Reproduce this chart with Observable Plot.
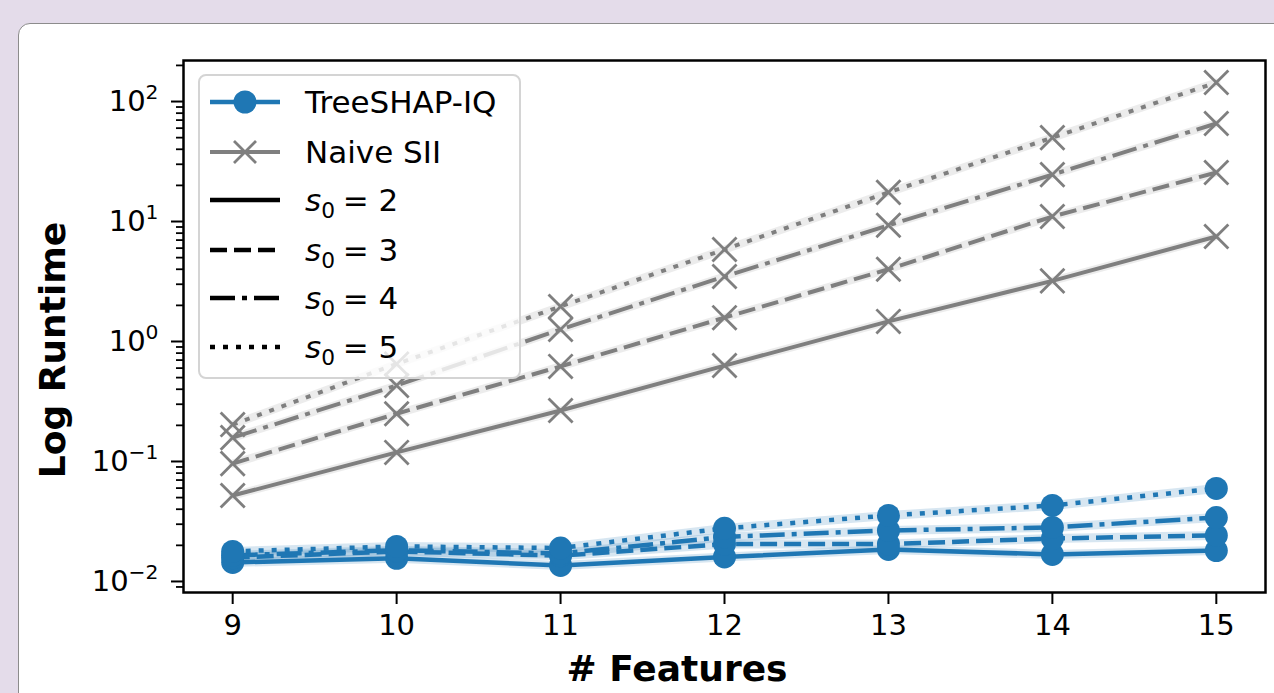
<!DOCTYPE html>
<html><head><meta charset="utf-8">
<script src="https://cdn.jsdelivr.net/npm/d3@7"></script>
<script src="https://cdn.jsdelivr.net/npm/@observablehq/plot@0.6"></script>
<style>
html,body{margin:0;padding:0;background:#e4dcea;width:1274px;height:693px;overflow:hidden;font-family:"DejaVu Sans";}
#card{position:absolute;left:18px;top:23px;width:1300px;height:720px;background:#fff;border:1px solid #8c8c8c;border-radius:12px;}
#chart{position:absolute;left:0;top:0;}
</style></head><body>
<div id="card"></div><div id="chart"></div>
<script>
// ---- data ----
const features = [9, 10, 11, 12, 13, 14, 15];
const s0Values = [2, 3, 4, 5];
// TreeSHAP-IQ runtimes (s)
const treeS2 = [0.0144, 0.0156, 0.0136, 0.0160, 0.0185, 0.0168, 0.0181];
const treeS3 = [0.0158, 0.0178, 0.0164, 0.0205, 0.0205, 0.0228, 0.0242];
const treeS4 = [0.0165, 0.0182, 0.0171, 0.0235, 0.0266, 0.0282, 0.0341];
const treeS5 = [0.0178, 0.0196, 0.0190, 0.0277, 0.0355, 0.0430, 0.0596];
// Naive SII runtimes (s)
const naiveS2 = [0.052, 0.119, 0.266, 0.63, 1.47, 3.2, 7.5];
const naiveS3 = [0.096, 0.25, 0.62, 1.58, 4.0, 11.0, 25.6];
const naiveS4 = [0.158, 0.43, 1.26, 3.48, 9.3, 24.6, 65.6];
const naiveS5 = [0.203, 0.65, 1.96, 5.85, 17.5, 50, 144];
const yMajorTicks = [1e-2, 1e-1, 1e0, 1e1, 1e2];
const yTickExponents = ["\u22122", "\u22121", "0", "1", "2"];
const legendLabels = ["TreeSHAP-IQ", "Naive SII"];
const axisLabelX = "# Features";
const axisLabelY = "Log Runtime";

const treeSeries = [treeS2, treeS3, treeS4, treeS5];
const naiveSeries = [naiveS2, naiveS3, naiveS4, naiveS5];
const dashes = [null, "17 7", "25 7 5 7", "5 8"];
const BLUE = "#1f77b4", GRAY = "#7f7f7f";

const rows = (vals) => features.map((f, i) => ({f, v: vals[i]}));

const yMinor = [];
for (let e = -3; e <= 2; e++) for (let m = 2; m <= 9; m++) {
  const v = m * 10 ** e;
  if (v > 10 ** -2.092 && v < 10 ** 2.342) yMinor.push(v);
}

const marks = [];
s0Values.forEach((s, k) => {
  const tr = rows(treeSeries[k]), nv = rows(naiveSeries[k]);
  marks.push(Plot.line(tr, {x: "f", y: "v", stroke: BLUE, strokeWidth: 9, strokeOpacity: 0.18}));
  marks.push(Plot.line(tr, {x: "f", y: "v", stroke: BLUE, strokeWidth: 4.5, strokeDasharray: dashes[k], strokeLinecap: "butt", strokeLinejoin: "round"}));
  marks.push(Plot.dot(tr, {x: "f", y: "v", r: 11.5, fill: BLUE, stroke: "none"}));
  marks.push(Plot.line(nv, {x: "f", y: "v", stroke: GRAY, strokeWidth: 8, strokeOpacity: 0.15}));
  marks.push(Plot.line(nv, {x: "f", y: "v", stroke: GRAY, strokeWidth: 4, strokeDasharray: dashes[k], strokeLinecap: "butt", strokeLinejoin: "round"}));
  marks.push(Plot.dot(nv, {x: "f", y: "v", r: 11, symbol: "times", stroke: GRAY, strokeWidth: 2.8}));
});

const plot = Plot.plot({
  width: 1274, height: 693,
  marginLeft: 183, marginTop: 60, marginRight: 9, marginBottom: 101,
  style: {fontFamily: "DejaVu Sans", fontSize: "29px", color: "black", background: "transparent", overflow: "visible"},
  x: {domain: [8.7, 15.3], label: null},
  y: {type: "log", domain: [10 ** -2.092, 10 ** 2.342], label: null},
  marks: [
    ...marks,
    Plot.axisY({ticks: yMinor, tickSize: 7, strokeWidth: 1.8, tickFormat: () => "", label: null}),
    Plot.axisY({ticks: yMajorTicks, tickSize: 12, strokeWidth: 2, tickPadding: 13, label: null,
      tickFormat: (d) => yTickExponents[yMajorTicks.indexOf(d)]}),
    Plot.axisX({ticks: features, tickSize: 12, strokeWidth: 2, tickPadding: 10, label: null, tickFormat: d3.format("d")}),
    Plot.frame({stroke: "black", strokeWidth: 2.5})
  ]
});
document.getElementById("chart").appendChild(plot);

const svg = d3.select(plot);
// superscript tick labels
svg.selectAll('g[aria-label="y-axis tick label"] text').each(function () {
  const t = d3.select(this);
  const exp = t.text();
  if (!exp) return;
  t.text(null);
  t.append("tspan").text("10");
  t.append("tspan").attr("font-size", "0.7em").attr("dy", "-0.6em").text(exp);
});

// axis labels
svg.append("text").attr("transform", "translate(52,350) rotate(-90)")
  .attr("text-anchor", "middle").attr("dominant-baseline", "central")
  .attr("font-weight", "bold").attr("font-size", 36).attr("fill", "black").text(axisLabelY);
svg.append("text").attr("x", 677).attr("y", 668)
  .attr("text-anchor", "middle").attr("dominant-baseline", "central")
  .attr("font-weight", "bold").attr("font-size", 36).attr("fill", "black").text(axisLabelX);

// legend
const lg = svg.append("g").attr("text-anchor", "start");
lg.append("rect").attr("x", 199).attr("y", 75).attr("width", 321).attr("height", 303).attr("rx", 7)
  .attr("fill", "white").attr("fill-opacity", 0.8).attr("stroke", "#d4d4d4").attr("stroke-width", 2);
const rowY = [102, 152, 200, 250, 298, 347];
const x0 = 210, x1 = 280, tx = 305;
lg.append("line").attr("x1", x0).attr("x2", x1).attr("y1", rowY[0]).attr("y2", rowY[0]).attr("stroke", BLUE).attr("stroke-width", 4.5);
lg.append("circle").attr("cx", 245).attr("cy", rowY[0]).attr("r", 11.5).attr("fill", BLUE);
lg.append("line").attr("x1", x0).attr("x2", x1).attr("y1", rowY[1]).attr("y2", rowY[1]).attr("stroke", GRAY).attr("stroke-width", 4);
lg.append("path").attr("d", `M234,${rowY[1]-11}L256,${rowY[1]+11}M234,${rowY[1]+11}L256,${rowY[1]-11}`).attr("stroke", GRAY).attr("stroke-width", 2.8);
legendLabels.forEach((l, i) => {
  lg.append("text").attr("x", tx).attr("y", rowY[i]).attr("dy", "0.36em").attr("font-size", 31).attr("fill", "black").text(l);
});
s0Values.forEach((s, k) => {
  const y = rowY[k + 2];
  lg.append("line").attr("x1", x0).attr("x2", x1).attr("y1", y).attr("y2", y).attr("stroke", "black")
    .attr("stroke-width", 4.5).attr("stroke-dasharray", dashes[k]);
  const t = lg.append("text").attr("x", tx).attr("y", y).attr("dy", "0.36em").attr("font-size", 31).attr("fill", "black");
  t.append("tspan").attr("font-style", "italic").text("s");
  t.append("tspan").attr("font-size", "0.7em").attr("dy", "0.3em").text("0");
  t.append("tspan").attr("dy", "-0.21em").attr("dx", "0.25em").text("= " + s);
});
</script>
</body></html>
